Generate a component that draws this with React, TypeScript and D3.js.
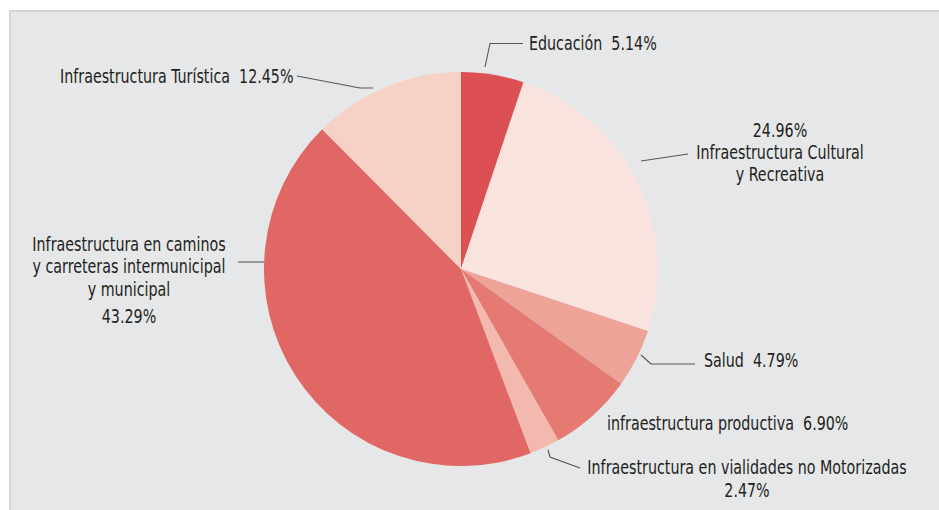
import React from "react";
import * as d3 from "d3";

const categories = [
  "Educación",
  "Infraestructura Cultural y Recreativa",
  "Salud",
  "infraestructura productiva",
  "Infraestructura en vialidades no Motorizadas",
  "Infraestructura en caminos y carreteras intermunicipal y municipal",
  "Infraestructura Turística",
];
const values = [5.14, 24.96, 4.79, 6.9, 2.47, 43.29, 12.45];
const colors = ["#dc5053", "#f9e3df", "#eda398", "#e47a71", "#f3b9ae", "#e06764", "#f6d1c6"];

const labelLines: string[][] = [
  ["Educación  5.14%"],
  ["24.96%", "Infraestructura Cultural", "y Recreativa"],
  ["Salud  4.79%"],
  ["infraestructura productiva  6.90%"],
  ["Infraestructura en vialidades no Motorizadas", "2.47%"],
  ["Infraestructura en caminos", "y carreteras intermunicipal", "y municipal", "43.29%"],
  ["Infraestructura Turística  12.45%"],
];

const W = 939;
const H = 510;
const cx = 461;
const cy = 269;
const R = 197;

const labelLayout = [
  { x: 529, y: 50, anchor: "start", dy: 22, line: [[485, 67], [490, 43.5], [523, 43.5]] },
  { x: 780, y: 137, anchor: "middle", dy: 22, line: [[641, 161], [688, 154]] },
  { x: 704, y: 367, anchor: "start", dy: 22, line: [[641, 355], [651, 364], [695, 364]] },
  { x: 607, y: 430, anchor: "start", dy: 22, line: null },
  { x: 747, y: 474, anchor: "middle", dy: 23, line: [[548, 450], [550, 457], [580, 468]] },
  { x: 129, y: 251, anchor: "middle", dy: 22.5, line: [[238, 262], [264, 262]], lastGap: 5 },
  { x: 60, y: 83, anchor: "start", dy: 22, line: [[297, 76], [360, 88], [373, 88]] },
];

const FONT = "'DejaVu Sans Condensed', 'Liberation Sans Narrow', 'Roboto', sans-serif";
const SX = 0.835;

export default function App() {
  const pie = d3.pie<number>().sort(null).value((d) => d)(values);
  const arc = d3.arc<d3.PieArcDatum<number>>().innerRadius(0).outerRadius(R);
  const line = d3.line();

  return (
    <div style={{ position: "absolute", left: 0, top: 0 }}>
      <svg width={W} height={H} style={{ display: "block", background: "#ffffff" }}>
        <rect x={10} y={11} width={W + 10} height={H + 10} fill="#e6e7e8" stroke="#d3d4d5" strokeWidth={2} />
        <g transform={`translate(${cx},${cy})`}>
          {pie.map((p, i) => (
            <path key={categories[i]} d={arc(p) || ""} fill={colors[i]} />
          ))}
        </g>
        {labelLayout.map((l, i) => (
          <g key={"lbl" + i}>
            {l.line && (
              <path d={line(l.line as [number, number][]) || ""} fill="none" stroke="#555" strokeWidth={1.1} />
            )}
            <text
              transform={`translate(${l.x},${l.y}) scale(${SX},1)`}
              textAnchor={l.anchor as any}
              fontFamily={FONT}
              fontSize={19}
              fill="#231f20"
            >
              {labelLines[i].map((t, j) => (
                <tspan
                  key={j}
                  x={0}
                  dy={j === 0 ? 0 : l.dy + (j === labelLines[i].length - 1 && (l as any).lastGap ? (l as any).lastGap : 0)}
                  style={{ whiteSpace: "pre" }}
                >
                  {t}
                </tspan>
              ))}
            </text>
          </g>
        ))}
      </svg>
    </div>
  );
}
